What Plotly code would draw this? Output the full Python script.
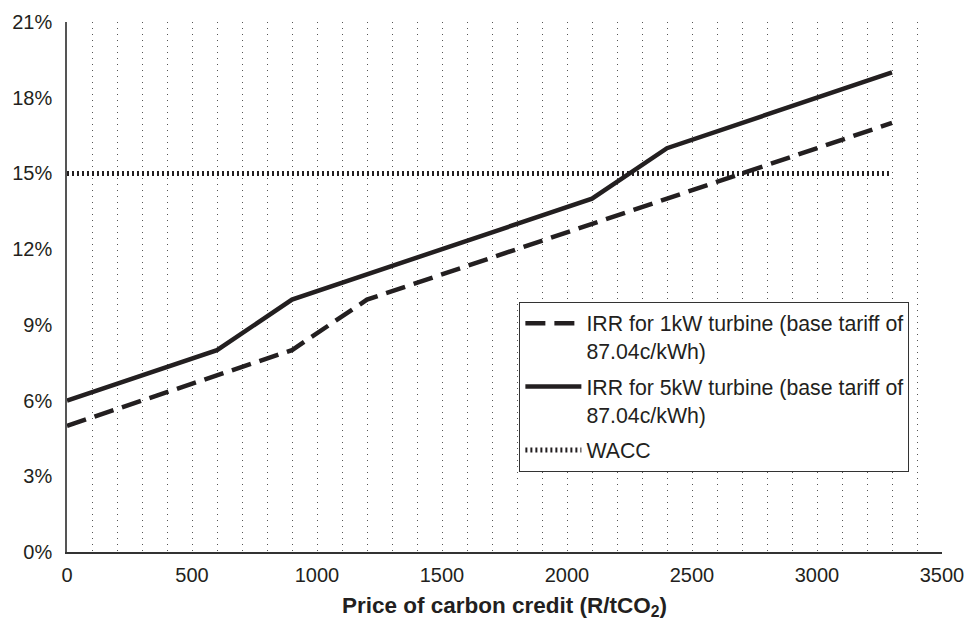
import plotly.graph_objects as go

price = [0, 300, 600, 900, 1200, 1500, 1800, 2100, 2400, 2700, 3000, 3300]
irr_1kw = [5, 6, 7, 8, 10, 11, 12, 13, 14, 15, 16, 17]
irr_5kw = [6, 7, 8, 10, 11, 12, 13, 14, 16, 17, 18, 19]
wacc = [15] * len(price)

y_ticks = [0, 3, 6, 9, 12, 15, 18, 21]
x_ticks = [0, 500, 1000, 1500, 2000, 2500, 3000, 3500]

names = [
    "IRR for 1kW turbine (base tariff of<br>87.04c/kWh)",
    "IRR for 5kW turbine (base tariff of<br>87.04c/kWh)",
    "WACC",
]

ink = "#231f20"
fig = go.Figure()
fig.add_trace(go.Scatter(x=price, y=irr_1kw, mode="lines", name=names[0], legendgroup="a",
                         line=dict(color=ink, width=4.5, dash="20px,9px")))
fig.add_trace(go.Scatter(x=price, y=irr_5kw, mode="lines", name=names[1], legendgroup="b",
                         line=dict(color=ink, width=4.5)))
fig.add_trace(go.Scatter(x=price, y=wacc, mode="lines", name=names[2], legendgroup="c",
                         line=dict(color=ink, width=5, dash="2px,3px")))

font = "Liberation Sans, Arial, sans-serif"
fig.update_layout(
    width=965, height=623,
    margin=dict(l=67, r=23, t=22, b=71, autoexpand=False),
    paper_bgcolor="white", plot_bgcolor="white",
    font=dict(family=font, size=20, color=ink),
    showlegend=True,
    legend=dict(x=0.517, y=0.472, xanchor="left", yanchor="top",
                bordercolor="#333", borderwidth=1, bgcolor="white",
                font=dict(size=21.3, color=ink), itemwidth=56, valign="top",
                traceorder="grouped", tracegroupgap=5),
    xaxis=dict(range=[0, 3500], tickvals=x_ticks, ticktext=[str(v) for v in x_ticks],
               showline=True, linecolor="#333", linewidth=1.5,
               showgrid=True, gridcolor="#555", gridwidth=1, griddash="1px,5px",
               minor=dict(dtick=100, tick0=0, showgrid=True, gridcolor="#555",
                          gridwidth=1, griddash="1px,5px"),
               ticks="outside", ticklen=4, tickcolor="rgba(0,0,0,0)",
               zeroline=False, automargin=False,
               title=dict(text="<b>Price of carbon credit (R/tCO<sub>2</sub>)</b>",
                          font=dict(size=22.5), standoff=12)),
    yaxis=dict(range=[0, 21], tickvals=y_ticks, ticktext=[f"{v}%" for v in y_ticks],
               showline=True, linecolor="#555", linewidth=1.5,
               showgrid=False, zeroline=False, automargin=False,
               ticks="outside", ticklen=9, tickcolor="rgba(0,0,0,0)"),
)

fig.write_html("out.html", config={"displayModeBar": False},
               post_script="document.body.style.margin='0';")
